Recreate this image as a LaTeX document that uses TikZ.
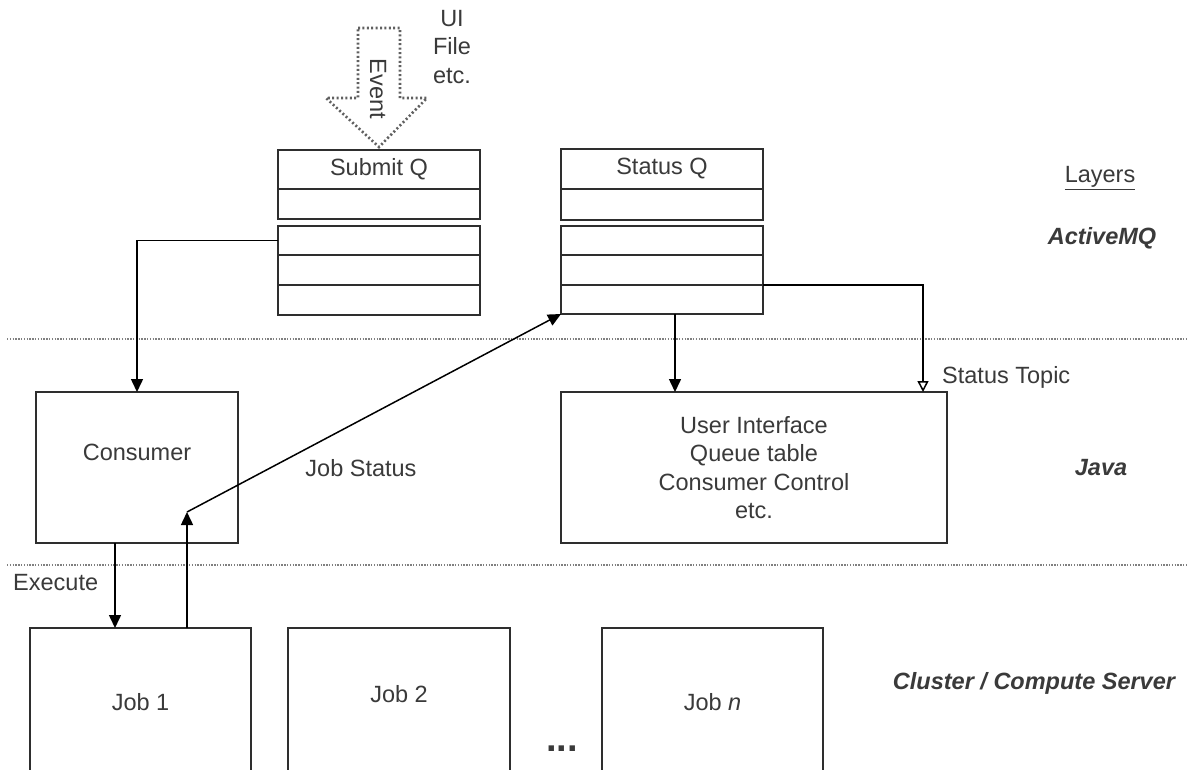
\documentclass[tikz,border=0pt]{standalone}
\usepackage{fontspec}
\setmainfont{Liberation Sans}
\usetikzlibrary{arrows.meta}
\definecolor{ln}{HTML}{2E2E2E}
\definecolor{txt}{HTML}{3A3A3A}
\definecolor{dots}{HTML}{808080}
\begin{document}
\begin{tikzpicture}[x=1pt,y=-1pt,
  font=\fontsize{23.5}{28.5}\selectfont, text=txt,
  box/.style={draw=ln, line width=2.5pt, inner sep=0pt, outer sep=0pt, anchor=north west},
  qrow/.style={box, minimum width=202pt},
  jobbox/.style={draw=ln, line width=1.5pt, inner sep=0pt, outer sep=0pt, anchor=north west, minimum height=160pt},
  arr/.style={draw=black, line width=1.5pt, -{Triangle[length=13pt,width=12pt]}},
  oarr/.style={draw=black, line width=1.5pt, -{Triangle[open,length=11pt,width=11pt,line width=1.5pt]}},
  layer/.style={draw=dots, line width=2.2pt, dash pattern=on 1.3pt off 1.5pt},
  evt/.style={draw=gray!75!black, line width=2.6pt, dash pattern=on 2pt off 2.4pt, line join=miter},
  lbl/.style={inner sep=0pt},
  lay/.style={inner sep=0pt, font=\fontsize{23.5}{28}\selectfont\bfseries\itshape}
]
\clip (0,0) rectangle (1190,769);
\fill[white] (0,0) rectangle (1190,769);

% layer separators
\draw[layer] (7,339) -- (1186,339);
\draw[layer] (7,565) -- (1186,565);

% event arrow
\draw[evt] (358,28) -- (400,28) -- (400,98) -- (427,98) -- (379,147) -- (326,98) -- (358,98) -- cycle;
\node[lbl, rotate=-90] (event) at (378,89) {Event};
\node[lbl, align=center] (ui-file) at (452,47) {UI\\File\\etc.};

% Submit Q
\node[qrow, minimum height=39pt] (s1) at (278,150) {Submit Q};
\node[qrow, minimum height=30pt] (s2) at (278,189) {};
\node[qrow, minimum height=29pt] (s3) at (278,226) {};
\node[qrow, minimum height=30pt] (s4) at (278,255) {};
\node[qrow, minimum height=30pt] (s5) at (278,285) {};

% Status Q
\node[qrow, minimum height=40pt] (t1) at (561,149) {Status Q};
\node[qrow, minimum height=31pt] (t2) at (561,189) {};
\node[qrow, minimum height=29pt] (t3) at (561,226) {};
\node[qrow, minimum height=30pt] (t4) at (561,255) {};
\node[qrow, minimum height=29pt] (t5) at (561,285) {};

% Java layer boxes
\node[box, minimum width=202pt, minimum height=151pt, label={[yshift=15pt]center:Consumer}] (cons) at (36,392) {};
\node[box, minimum width=386pt, minimum height=151pt, align=center] (ui) at (561,392) {User Interface\\Queue table\\Consumer Control\\etc.};

% Jobs
\node[jobbox, minimum width=221pt, label={[yshift=6pt]center:Job 1}] (j1) at (30,628) {};
\node[jobbox, minimum width=222pt, label={[yshift=14pt]center:Job 2}] (j2) at (288,628) {};
\node[jobbox, minimum width=221pt, label={[yshift=6pt]center:Job \textit{n}}] (jn) at (602,628) {};
\node[lbl, font=\fontsize{38}{38}\selectfont\bfseries] (dots) at (562,749) {...};

% labels
\node[lbl] (layers) at (1100,178) {\underline{Layers}};
\node[lay] (amq) at (1102,238) {ActiveMQ};
\node[lay] (java) at (1101,468) {Java};
\node[lay] (cluster) at (1034,683) {Cluster / Compute Server};
\node[lbl, anchor=west] (stopic) at (942,377) {Status Topic};
\node[lbl, anchor=west] (exec) at (13,583) {Execute};
\node[lbl] (jstat) at (361,468) {Job Status};

% connectors
\coordinate (ex) at (115,0);
\coordinate (bend) at (187,512);
\coordinate (sd) at (675,0);
\coordinate (st) at (923,0);
\draw[arr] (s3.west) -- (s3.west -| cons.north) -- (cons.north);
\draw[arr] (cons.south -| ex) -- (j1.north -| ex);
\draw[arr] (j1.north -| bend) -- (bend);
\draw[arr] (bend) -- (t5.south west);
\draw[arr] (t5.south -| sd) -- (ui.north -| sd);
\draw[oarr] (t5.north east) -- (t5.north east -| st) -- (ui.north -| st);
\end{tikzpicture}
\end{document}
